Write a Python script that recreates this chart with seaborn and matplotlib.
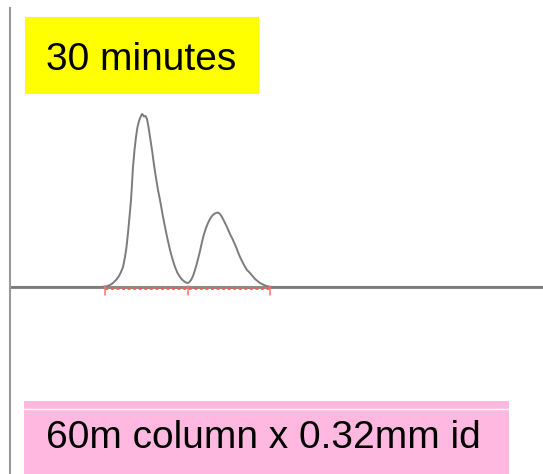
import matplotlib
matplotlib.use("Agg")
import matplotlib.pyplot as plt
from matplotlib.patches import Rectangle
import seaborn as sns

# chromatogram trace (time in arbitrary units, signal above baseline)
time = [0, 90, 96, 100, 103, 106, 109, 111, 113, 115, 116.5, 118, 119.5, 121, 122,
        123, 124.5, 126, 127.5, 129, 130.5, 132, 133, 134, 135.5, 137, 138.5, 140,
        142, 144, 146, 148, 150, 152.5, 155, 157.5, 160, 162.5, 165, 167.5, 170,
        172.5, 175, 177, 179, 181, 183, 185, 187, 190, 192, 194, 196, 198, 200, 202,
        204, 206, 208, 210, 212, 214, 217, 220, 223, 226, 230, 234, 237, 240,
        245, 250, 255, 260, 533]
signal = [0, 0, 0.5, 2, 4, 7, 11, 15, 20, 30, 40, 54, 70, 87, 103,
          120, 137, 150, 160, 166, 170, 173, 172, 170.5, 171, 168, 160, 150,
          137, 122, 109, 97, 87, 73, 60, 48, 37, 28, 20, 14, 10,
          7, 5, 4, 4.5, 7, 11, 17, 24, 36, 45, 53, 59, 64, 68, 71,
          73, 74, 74.5, 73, 70, 66, 60, 53, 47, 40, 30, 22, 17, 14,
          8, 4, 1.5, 0, 0]

# integration baseline (red dotted) with drop marks
integ_x = [95, 178, 260]
integ_y = [-1, -1, -1]

title_text = "30 minutes"
column_text = "60m column x 0.32mm id"

sns.set_style("white")
plt.rcParams["font.family"] = ["Liberation Sans Narrow", "Liberation Sans", "DejaVu Sans"]

W, H = 543, 474
fig = plt.figure(figsize=(W / 100, H / 100), dpi=100)
ax = fig.add_axes([10 / W, 0, 533 / W, 466 / H])

ax.axhline(0, color="#8a8a8a", lw=2.2, zorder=1)
sns.lineplot(x=time, y=signal, ax=ax, color="#7c7c7c", lw=1.4, zorder=2)

ax.plot(integ_x, integ_y, color="#ff5a5a", lw=2.0, ls=(0, (1, 1)), zorder=3)
for xv, yv in zip(integ_x, integ_y):
    ax.plot([xv, xv], [yv + 2, yv - 7], color="#ff7070", lw=1.1, zorder=3)

ax.set_xlim(0, 533)
ax.set_ylim(-187, 279)
ax.set_xticks([])
ax.set_yticks([])
for s in ["top", "right", "bottom"]:
    ax.spines[s].set_visible(False)
ax.spines["left"].set_color("#999999")
ax.spines["left"].set_linewidth(1.5)

# label boxes
fig.add_artist(Rectangle((25 / W, (H - 94) / H), 234 / W, 77 / H,
                         transform=fig.transFigure, color="#ffff00", lw=0))
fig.text(141 / W, (H - 70) / H, title_text, fontsize=28, va="baseline", ha="center",
         color="black")

fig.add_artist(Rectangle((24 / W, 0), 485 / W, 73 / H,
                         transform=fig.transFigure, color="#ffb9e1", lw=0))
fig.add_artist(plt.Line2D([24 / W, 509 / W], [65 / H, 65 / H],
                          transform=fig.transFigure, color="white", lw=1))
fig.text(263 / W, 26 / H, column_text, fontsize=28, va="baseline", ha="center",
         color="black")

fig.savefig("out.png", dpi=100)
